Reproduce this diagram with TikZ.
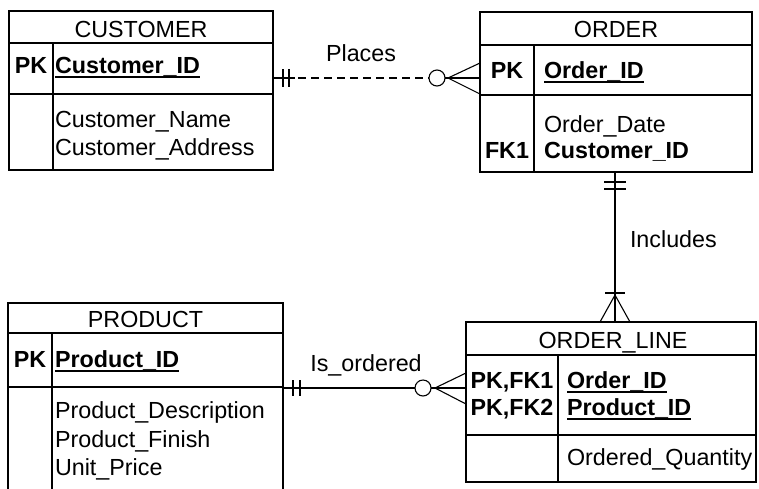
\documentclass[tikz,border=0pt]{standalone}
\usepackage{fontspec}
\setmainfont{Liberation Sans}
\usetikzlibrary{calc}
\begin{document}
\begin{tikzpicture}[x=1pt,y=-1pt,
  ebox/.style={draw, rectangle, line width=1.8pt, inner sep=0pt, outer sep=0pt},
  sepline/.style={line width=1.4pt},
  rel/.style={line width=1.1pt},
  base txt/.style={inner sep=0pt, outer sep=0pt, font=\fontsize{23.3}{28}\selectfont},
  ttl/.style={base txt, anchor=base},
  keytxt/.style={base txt, anchor=base, font=\fontsize{23.3}{28}\selectfont\bfseries},
  att/.style={base txt, anchor=base west},
  keyatt/.style={base txt, anchor=base west, font=\fontsize{23.3}{28}\selectfont\bfseries},
  ul/.style={line width=1.4pt},
  lbl/.style={base txt, anchor=base}
]
\useasboundingbox (0,0) rectangle (759,488);
\clip (0,0) rectangle (759,488);

% ---------- CUSTOMER ----------
\node[ebox, minimum width=264pt, minimum height=159pt] (cust) at (141,90.5) {};
\draw[sepline] (cust.west |- 0,43) -- (cust.east |- 0,43);
\draw[sepline] (cust.west |- 0,94) -- (cust.east |- 0,94);
\draw[sepline] (53,43) -- (cust.south -| 53,0);
\node[ttl] (custT) at (141,37) {CUSTOMER};
\node[keytxt] (custPK) at (31,73) {PK};
\node[keyatt] (custID) at (55,73) {Customer\_ID};
\draw[ul] ([yshift=-4pt]custID.base west) -- ([yshift=-4pt]custID.base east);
\node[att] (custN) at (55,127) {Customer\_Name};
\node[att] (custA) at (55,155) {Customer\_Address};

% ---------- ORDER ----------
\node[ebox, minimum width=272pt, minimum height=160pt] (ord) at (616,92) {};
\draw[sepline] (ord.west |- 0,45) -- (ord.east |- 0,45);
\draw[sepline] (ord.west |- 0,95) -- (ord.east |- 0,95);
\draw[sepline] (534,45) -- (ord.south -| 534,0);
\node[ttl] (ordT) at (616,37) {ORDER};
\node[keytxt] (ordPK) at (507,78) {PK};
\node[keyatt] (ordID) at (544,78) {Order\_ID};
\draw[ul] ([yshift=-4pt]ordID.base west) -- ([yshift=-4pt]ordID.base east);
\node[att] (ordD) at (544,132) {Order\_Date};
\node[keytxt] (ordFK) at (507,158) {FK1};
\node[keyatt] (ordC) at (544,158) {Customer\_ID};

% ---------- PRODUCT ----------
\node[ebox, minimum width=275pt, minimum height=207pt] (prod) at (145.5,406.5) {};
\draw[sepline] (prod.west |- 0,333) -- (prod.east |- 0,333);
\draw[sepline] (prod.west |- 0,387) -- (prod.east |- 0,387);
\draw[sepline] (52,333) -- (prod.south -| 52,0);
\node[ttl] (prodT) at (145.5,327) {PRODUCT};
\node[keytxt] (prodPK) at (30,367) {PK};
\node[keyatt] (prodID) at (55,367) {Product\_ID};
\draw[ul] ([yshift=-4pt]prodID.base west) -- ([yshift=-4pt]prodID.base east);
\node[att] (prodD) at (55,418) {Product\_Description};
\node[att] (prodF) at (55,447) {Product\_Finish};
\node[att] (prodP) at (55,475) {Unit\_Price};

% ---------- ORDER_LINE ----------
\node[ebox, minimum width=290pt, minimum height=160pt] (ol) at (611,402) {};
\draw[sepline] (ol.west |- 0,355) -- (ol.east |- 0,355);
\draw[sepline] (ol.west |- 0,435) -- (ol.east |- 0,435);
\draw[sepline] (558,355) -- (ol.south -| 558,0);
\node[ttl] (olT) at (613,348) {ORDER\_LINE};
\node[keytxt] (olK1) at (512,388) {PK,FK1};
\node[keyatt] (olO) at (567,388) {Order\_ID};
\draw[ul] ([yshift=-4pt]olO.base west) -- ([yshift=-4pt]olO.base east);
\node[keytxt] (olK2) at (512,415) {PK,FK2};
\node[keyatt] (olP) at (567,415) {Product\_ID};
\draw[ul] ([yshift=-4pt]olP.base west) -- ([yshift=-4pt]olP.base east);
\node[att] (olQ) at (567,465) {Ordered\_Quantity};

% ---------- Places (CUSTOMER -- ORDER) ----------
\coordinate (plA) at (cust.east |- 0,78);
\coordinate (plB) at (ord.west |- 0,78);
\draw[rel] (plA) -- ($(plA)+(22,0)$);
\draw[rel, dash pattern=on 8pt off 5pt] ($(plA)+(25,0)$) -- ($(plB)+(-51,0)$);
\draw[rel] ($(plA)+(10,-9)$) -- ($(plA)+(10,9)$);
\draw[rel] ($(plA)+(16,-9)$) -- ($(plA)+(16,9)$);
\draw[rel] ($(plB)+(-43,0)$) circle[radius=8];
\draw[rel] ($(plB)+(-35,0)$) -- (plB);
\draw[rel] ($(plB)+(0,-15)$) -- ($(plB)+(-32,0)$) -- ($(plB)+(0,16)$);
\node[lbl] (plL) at (361,61) {Places};

% ---------- Is_ordered (PRODUCT -- ORDER_LINE) ----------
\coordinate (ioA) at (prod.east |- 0,388);
\coordinate (ioB) at (ol.west |- 0,388);
\draw[rel] (ioA) -- ($(ioB)+(-51,0)$);
\draw[rel] ($(ioA)+(10,-8)$) -- ($(ioA)+(10,8)$);
\draw[rel] ($(ioA)+(17,-8)$) -- ($(ioA)+(17,8)$);
\draw[rel] ($(ioB)+(-43,0)$) circle[radius=8];
\draw[rel] ($(ioB)+(-35,0)$) -- (ioB);
\draw[rel] ($(ioB)+(0,-15)$) -- ($(ioB)+(-31,0)$) -- ($(ioB)+(0,16)$);
\node[lbl] (ioL) at (366,371) {Is\_ordered};

% ---------- Includes (ORDER -- ORDER_LINE) ----------
\coordinate (inA) at (ord.south -| 615,0);
\coordinate (inB) at (ol.north -| 615,0);
\draw[rel] (inA) -- (inB);
\draw[rel] ($(inA)+(-11,10)$) -- ($(inA)+(11,10)$);
\draw[rel] ($(inA)+(-11,17)$) -- ($(inA)+(11,17)$);
\draw[rel] ($(inB)+(-10,-29)$) -- ($(inB)+(10,-29)$);
\draw[rel] ($(inB)+(-15,0)$) -- ($(inB)+(0,-27)$) -- ($(inB)+(15,0)$);
\node[base txt, anchor=base west] (inL) at (630,247) {Includes};
\end{tikzpicture}
\end{document}
